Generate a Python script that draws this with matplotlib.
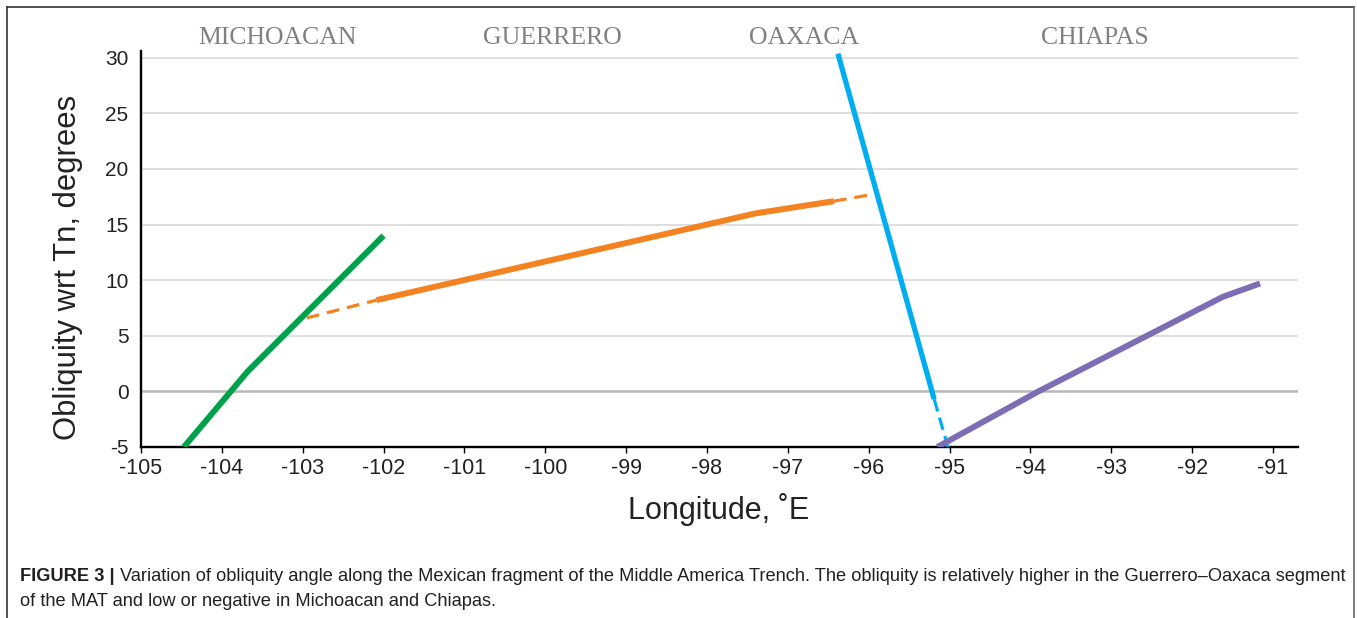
import matplotlib
matplotlib.use('Agg')
import matplotlib.pyplot as plt
from matplotlib.lines import Line2D

# ---------------- data ----------------
regions = ["MICHOACAN", "GUERRERO", "OAXACA", "CHIAPAS"]

green_x = [-104.47, -103.68, -102.0]
green_y = [-5.0, 1.8, 14.0]

orange_dash1_x = [-102.95, -102.09]
orange_dash1_y = [6.6, 8.2]
orange_solid_x = [-102.09, -97.4, -96.43]
orange_solid_y = [8.2, 16.0, 17.1]
orange_dash2_x = [-96.43, -95.96]
orange_dash2_y = [17.1, 17.7]

blue_solid_x = [-96.38, -95.19]
blue_solid_y = [30.36, -0.7]
blue_dash_x = [-95.19, -95.02]
blue_dash_y = [-0.7, -5.0]

purple_x = [-95.15, -93.9, -91.62, -91.16]
purple_y = [-5.0, 0.0, 8.5, 9.7]

xticks = list(range(-105, -90))
yticks = list(range(-5, 31, 5))

caption_bold = "FIGURE 3 | "
caption_line1 = ("Variation of obliquity angle along the Mexican fragment of the Middle America "
                 "Trench. The obliquity is relatively higher in the Guerrero\u2013Oaxaca segment")
caption_line2 = "of the MAT and low or negative in Michoacan and Chiapas."

# ---------------- figure ----------------
W, H = 1357, 618
plt.rcParams['font.family'] = ['Liberation Sans', 'DejaVu Sans']
plt.rcParams['axes.unicode_minus'] = False
fig = plt.figure(figsize=(W / 100, H / 100), dpi=100)
ax = fig.add_axes([141 / W, 1 - 447 / H, (1298 - 141) / W, (447 - 51) / H])
ax.set_xlim(-105, -90.69)
ax.set_ylim(-5, 30.6)

for v in [5, 10, 15, 20, 25, 30]:
    ax.axhline(v, color='#d9d9d9', lw=1.2, zorder=0)
ax.axhline(0, color='#b8b8b8', lw=1.8, zorder=0)

green = '#00a14b'
orange = '#f58220'
blue = '#00aeef'
purple = '#7d6db4'

ax.plot(green_x, green_y, color=green, lw=4.3, solid_capstyle='butt', zorder=3)
ax.plot(orange_dash1_x, orange_dash1_y, color=orange, lw=2.3, dashes=(4, 2.5), zorder=2)
ax.plot(orange_solid_x, orange_solid_y, color=orange, lw=4.3, solid_capstyle='butt', zorder=2)
ax.plot(orange_dash2_x, orange_dash2_y, color=orange, lw=2.3, dashes=(4, 2.5), zorder=2)
ax.plot(blue_solid_x, blue_solid_y, color=blue, lw=3.8, solid_capstyle='butt', zorder=3, clip_on=False)
ax.plot(blue_dash_x, blue_dash_y, color=blue, lw=2.3, dashes=(4, 2), zorder=3)
ax.plot(purple_x, purple_y, color=purple, lw=4.3, solid_capstyle='butt', zorder=3)

for s in ['top', 'right']:
    ax.spines[s].set_visible(False)
for s in ['left', 'bottom']:
    ax.spines[s].set_color('black')
    ax.spines[s].set_linewidth(1.7)

ax.set_xticks(xticks)
ax.set_xticklabels([str(t) for t in xticks])
ax.set_yticks(yticks)
ax.set_yticklabels([str(t) for t in yticks])
ax.tick_params(axis='x', length=4, width=1, color='black', labelsize=15.5, pad=4, labelcolor='#222222')
ax.tick_params(axis='y', length=0, labelsize=15, pad=9, labelcolor='#222222')

fig.text(719 / W, 1 - 509 / H, "Longitude, \u02daE", fontsize=22, ha='center', va='center', color='#222222')
fig.text(68 / W, 1 - 267 / H, "Obliquity wrt Tn, degrees", fontsize=22.3, ha='center', va='center',
         rotation=90, color='#222222')

# region labels
region_px = [278, 552, 804, 1095]
for name, px in zip(regions, region_px):
    fig.text(px / W, 1 - 44 / H, name, fontsize=18.5, ha='center', va='baseline',
             color='#808080', family=['Liberation Serif', 'DejaVu Serif'])

# caption
cap_font = ['Liberation Sans', 'DejaVu Sans']
t1 = fig.text(20 / W, 1 - 581 / H, caption_bold, fontsize=13.15, fontweight='bold', va='baseline',
              ha='left', family=cap_font, color='#231f20')
fig.canvas.draw()
ax.annotate(caption_line1, xy=(1, 0), xycoords=t1, va='bottom', ha='left', fontsize=13.15,
            family=cap_font, color='#231f20', annotation_clip=False)
fig.text(20 / W, 1 - 606 / H, caption_line2, fontsize=13.15, va='baseline', ha='left',
         family=cap_font, color='#231f20')

# frame
fig.add_artist(Line2D([7 / W, 7 / W], [0, 1 - 7 / H], color='#333333', lw=1.2, transform=fig.transFigure))
fig.add_artist(Line2D([7 / W, 1354 / W], [1 - 7 / H, 1 - 7 / H], color='#333333', lw=1.2, transform=fig.transFigure))
fig.add_artist(Line2D([1354 / W, 1354 / W], [0, 1 - 7 / H], color='#666666', lw=1.2, transform=fig.transFigure))

fig.savefig('out.png', dpi=100)
